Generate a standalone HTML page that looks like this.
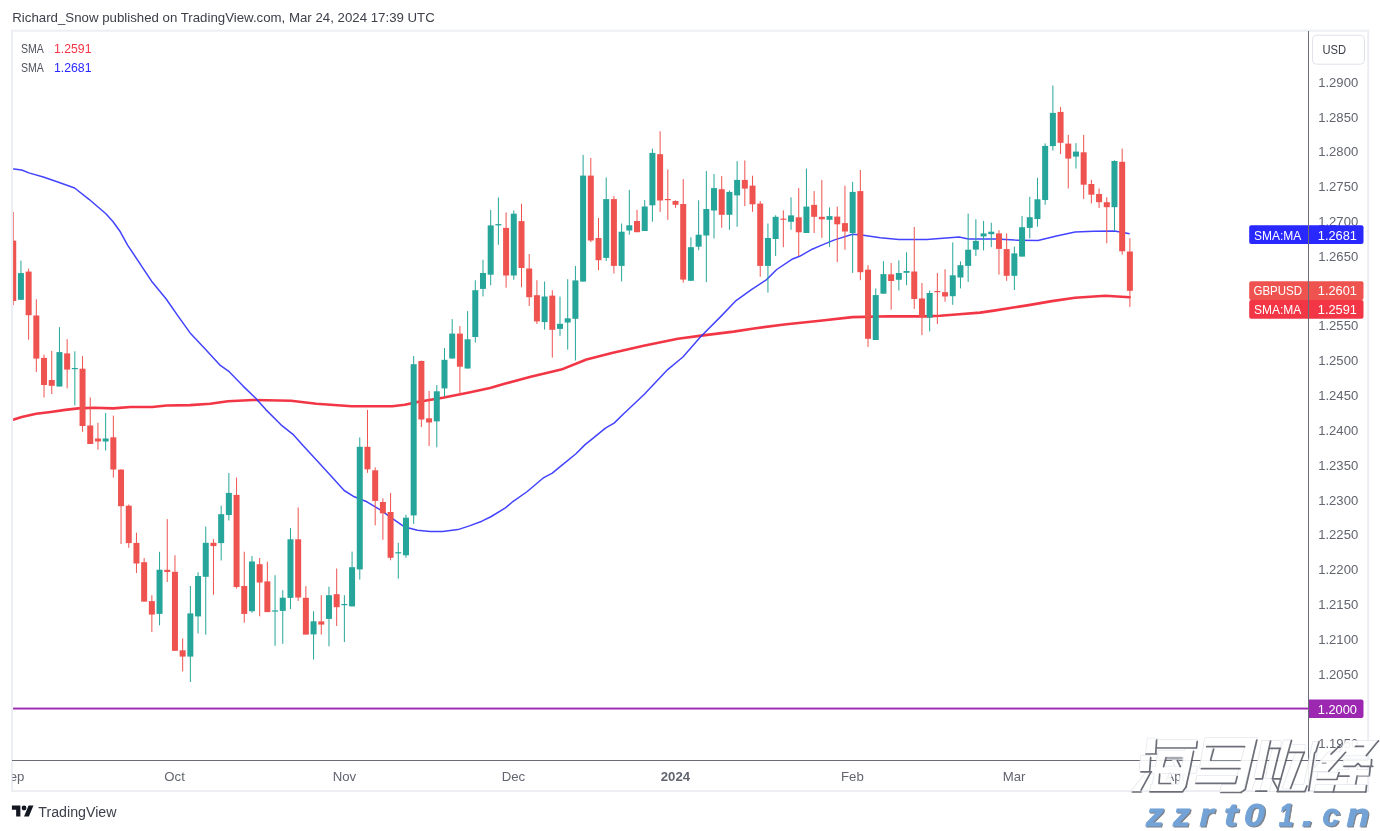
<!DOCTYPE html>
<html><head><meta charset="utf-8"><style>
html,body{margin:0;padding:0;background:#fff;}
body{width:1380px;height:831px;overflow:hidden;position:relative;font-family:"Liberation Sans", sans-serif;}
svg{position:absolute;left:0;top:0;will-change:transform;}
text{font-family:"Liberation Sans", sans-serif;}
</style></head><body>
<svg width="1380" height="831" viewBox="0 0 1380 831">
<defs><clipPath id="pane"><rect x="12" y="31" width="1296" height="729"/></clipPath><clipPath id="sepc"><rect x="12.4" y="761" width="40" height="29"/></clipPath>
<filter id="sh" x="-10%" y="-10%" width="130%" height="130%"><feGaussianBlur stdDeviation="0.8"/></filter><filter id="wb" x="-5%" y="-5%" width="110%" height="110%"><feGaussianBlur stdDeviation="0.45"/></filter><filter id="wsh" x="-5%" y="-5%" width="110%" height="110%"><feGaussianBlur stdDeviation="0.55"/></filter></defs>

<text x="12.3" y="22.4" font-size="13.3" fill="#3d404a" textLength="422.5" lengthAdjust="spacingAndGlyphs">Richard_Snow published on TradingView.com, Mar 24, 2024 17:39 UTC</text>
<g clip-path="url(#pane)">
<rect x="12" y="707.6" width="1296" height="1.9" fill="#9c27b0"/>
<polyline points="11.0,420.4 12.3,420.0 21.7,417.1 36.2,413.8 50.7,412.0 65.2,409.9 78.3,408.4 94.2,407.7 113.0,408.4 130.4,407.0 152.2,407.0 166.7,405.5 190.0,405.1 210.2,403.8 227.9,401.3 253.2,400.0 291.1,400.8 316.4,403.8 351.7,406.3 392.2,406.3 404.8,404.8 417.4,402.0 442.7,397.7 468.0,392.7 490.0,388.1 505.4,383.6 530.7,376.7 561.2,369.6 586.5,359.5 611.9,353.1 644.8,345.5 677.8,338.7 703.2,335.4 733.6,331.6 753.9,328.5 784.3,324.5 820.0,320.8 852.5,317.1 889.6,316.2 924.3,316.4 940.0,315.7 959.1,314.3 980.0,312.6 993.9,310.6 1028.7,305.1 1051.9,301.1 1075.1,297.7 1105.2,295.8 1129.6,297.2" fill="none" stroke="#f23645" stroke-width="2.6" stroke-linejoin="round" stroke-linecap="round"/>
<polyline points="11.0,168.5 12.0,168.8 21.7,170.0 28.9,172.9 43.3,177.0 57.8,182.0 74.6,188.0 89.0,199.3 105.9,213.8 113.1,221.7 120.3,231.8 127.6,245.1 144.4,270.3 151.6,281.2 166.0,298.7 178.1,316.1 190.1,332.9 205.2,349.0 220.3,365.4 229.2,371.7 243.1,386.1 255.7,398.2 265.8,409.6 281.0,424.8 293.6,434.9 303.7,446.2 316.4,460.1 331.5,476.6 344.2,490.5 354.3,496.8 366.9,501.8 379.5,509.4 392.2,518.3 404.8,527.1 417.4,530.2 430.1,531.4 442.7,531.4 457.9,529.6 469.4,525.9 481.9,521.2 491.3,516.5 505.4,507.9 513.2,501.3 527.3,491.5 542.9,478.2 552.3,473.2 561.7,465.4 575.7,454.0 585.1,444.6 592.9,438.3 605.4,428.2 614.1,423.1 624.2,413.3 638.3,400.0 644.8,393.7 667.7,369.6 682.9,357.0 700.6,336.7 720.9,316.4 736.1,300.6 751.4,289.7 766.6,279.6 776.7,269.5 791.9,259.3 799.6,256.3 812.2,249.2 820.0,245.9 833.9,240.1 852.5,234.2 861.7,235.0 880.3,237.8 898.8,239.4 926.7,239.4 959.1,237.1 968.4,239.0 996.2,239.0 1014.8,240.1 1038.0,240.6 1056.5,236.0 1075.1,232.0 1093.6,231.3 1114.5,230.9 1129.6,233.7" fill="none" stroke="#2f2fff" stroke-width="1.5" stroke-linejoin="round" stroke-opacity="0.9"/>
<rect x="12.73" y="212.0" width="1" height="93.2" fill="#ef5350"/>
<rect x="10.23" y="240.6" width="6.0" height="60.4" fill="#ef5350"/>
<rect x="20.43" y="260.6" width="1" height="39.4" fill="#26a69a"/>
<rect x="17.93" y="273.1" width="6.0" height="26.7" fill="#26a69a"/>
<rect x="28.13" y="268.6" width="1" height="71.1" fill="#ef5350"/>
<rect x="25.63" y="271.6" width="6.0" height="43.6" fill="#ef5350"/>
<rect x="35.83" y="299.3" width="1" height="72.7" fill="#ef5350"/>
<rect x="33.33" y="315.5" width="6.0" height="43.1" fill="#ef5350"/>
<rect x="43.53" y="354.6" width="1" height="42.9" fill="#ef5350"/>
<rect x="41.03" y="357.9" width="6.0" height="27.1" fill="#ef5350"/>
<rect x="51.23" y="350.9" width="1" height="43.1" fill="#ef5350"/>
<rect x="48.73" y="380.0" width="6.0" height="5.8" fill="#ef5350"/>
<rect x="58.94" y="327.2" width="1" height="59.3" fill="#26a69a"/>
<rect x="56.44" y="352.1" width="6.0" height="34.4" fill="#26a69a"/>
<rect x="66.64" y="339.2" width="1" height="49.1" fill="#ef5350"/>
<rect x="64.14" y="353.4" width="6.0" height="16.2" fill="#ef5350"/>
<rect x="74.34" y="351.3" width="1" height="54.2" fill="#26a69a"/>
<rect x="71.84" y="368.0" width="6.0" height="1.2" fill="#26a69a"/>
<rect x="82.04" y="356.1" width="1" height="75.7" fill="#ef5350"/>
<rect x="79.54" y="368.7" width="6.0" height="57.3" fill="#ef5350"/>
<rect x="89.74" y="397.4" width="1" height="46.6" fill="#ef5350"/>
<rect x="87.24" y="425.5" width="6.0" height="18.5" fill="#ef5350"/>
<rect x="97.44" y="422.8" width="1" height="26.9" fill="#ef5350"/>
<rect x="94.94" y="438.5" width="6.0" height="3.0" fill="#ef5350"/>
<rect x="105.14" y="413.0" width="1" height="37.5" fill="#26a69a"/>
<rect x="102.64" y="438.5" width="6.0" height="3.0" fill="#26a69a"/>
<rect x="112.84" y="415.6" width="1" height="62.0" fill="#ef5350"/>
<rect x="110.34" y="437.3" width="6.0" height="32.2" fill="#ef5350"/>
<rect x="120.54" y="469.2" width="1" height="74.8" fill="#ef5350"/>
<rect x="118.04" y="469.6" width="6.0" height="36.6" fill="#ef5350"/>
<rect x="128.25" y="504.5" width="1" height="43.3" fill="#ef5350"/>
<rect x="125.75" y="505.7" width="6.0" height="37.4" fill="#ef5350"/>
<rect x="135.95" y="532.7" width="1" height="40.3" fill="#ef5350"/>
<rect x="133.45" y="542.9" width="6.0" height="20.6" fill="#ef5350"/>
<rect x="143.65" y="558.0" width="1" height="43.6" fill="#ef5350"/>
<rect x="141.15" y="562.2" width="6.0" height="39.4" fill="#ef5350"/>
<rect x="151.35" y="595.2" width="1" height="36.8" fill="#ef5350"/>
<rect x="148.85" y="601.1" width="6.0" height="13.5" fill="#ef5350"/>
<rect x="159.05" y="551.8" width="1" height="73.5" fill="#26a69a"/>
<rect x="156.55" y="569.7" width="6.0" height="44.2" fill="#26a69a"/>
<rect x="166.75" y="519.1" width="1" height="62.9" fill="#ef5350"/>
<rect x="164.25" y="569.8" width="6.0" height="2.2" fill="#ef5350"/>
<rect x="174.45" y="555.3" width="1" height="95.5" fill="#ef5350"/>
<rect x="171.95" y="571.8" width="6.0" height="79.0" fill="#ef5350"/>
<rect x="182.15" y="638.4" width="1" height="33.1" fill="#ef5350"/>
<rect x="179.65" y="650.3" width="6.0" height="6.3" fill="#ef5350"/>
<rect x="189.85" y="586.0" width="1" height="96.0" fill="#26a69a"/>
<rect x="187.35" y="613.4" width="6.0" height="43.2" fill="#26a69a"/>
<rect x="197.55" y="572.3" width="1" height="61.2" fill="#26a69a"/>
<rect x="195.05" y="576.0" width="6.0" height="40.4" fill="#26a69a"/>
<rect x="205.25" y="526.6" width="1" height="108.0" fill="#26a69a"/>
<rect x="202.75" y="542.8" width="6.0" height="34.0" fill="#26a69a"/>
<rect x="212.96" y="539.1" width="1" height="55.6" fill="#ef5350"/>
<rect x="210.46" y="542.8" width="6.0" height="3.3" fill="#ef5350"/>
<rect x="220.66" y="505.7" width="1" height="54.8" fill="#26a69a"/>
<rect x="218.16" y="514.2" width="6.0" height="28.9" fill="#26a69a"/>
<rect x="228.36" y="473.0" width="1" height="47.5" fill="#26a69a"/>
<rect x="225.86" y="492.9" width="6.0" height="22.1" fill="#26a69a"/>
<rect x="236.06" y="477.5" width="1" height="110.9" fill="#ef5350"/>
<rect x="233.56" y="494.9" width="6.0" height="92.1" fill="#ef5350"/>
<rect x="243.76" y="551.7" width="1" height="71.0" fill="#ef5350"/>
<rect x="241.26" y="586.0" width="6.0" height="27.9" fill="#ef5350"/>
<rect x="251.46" y="556.0" width="1" height="56.8" fill="#26a69a"/>
<rect x="248.96" y="561.5" width="6.0" height="49.7" fill="#26a69a"/>
<rect x="259.16" y="558.0" width="1" height="58.3" fill="#ef5350"/>
<rect x="256.66" y="564.2" width="6.0" height="18.3" fill="#ef5350"/>
<rect x="266.86" y="561.7" width="1" height="50.4" fill="#ef5350"/>
<rect x="264.36" y="581.4" width="6.0" height="30.7" fill="#ef5350"/>
<rect x="274.56" y="575.2" width="1" height="70.6" fill="#26a69a"/>
<rect x="272.06" y="610.4" width="6.0" height="1.2" fill="#26a69a"/>
<rect x="282.26" y="590.2" width="1" height="53.6" fill="#26a69a"/>
<rect x="279.76" y="597.7" width="6.0" height="13.2" fill="#26a69a"/>
<rect x="289.97" y="528.1" width="1" height="81.0" fill="#26a69a"/>
<rect x="287.47" y="539.3" width="6.0" height="58.6" fill="#26a69a"/>
<rect x="297.67" y="507.4" width="1" height="93.5" fill="#ef5350"/>
<rect x="295.17" y="539.3" width="6.0" height="58.2" fill="#ef5350"/>
<rect x="305.37" y="586.2" width="1" height="48.4" fill="#ef5350"/>
<rect x="302.87" y="597.8" width="6.0" height="36.8" fill="#ef5350"/>
<rect x="313.07" y="611.2" width="1" height="48.3" fill="#26a69a"/>
<rect x="310.57" y="621.3" width="6.0" height="13.1" fill="#26a69a"/>
<rect x="320.77" y="595.2" width="1" height="39.4" fill="#ef5350"/>
<rect x="318.27" y="621.4" width="6.0" height="3.2" fill="#ef5350"/>
<rect x="328.47" y="586.7" width="1" height="59.6" fill="#26a69a"/>
<rect x="325.97" y="595.2" width="6.0" height="23.7" fill="#26a69a"/>
<rect x="336.17" y="568.5" width="1" height="57.4" fill="#ef5350"/>
<rect x="333.67" y="594.2" width="6.0" height="13.0" fill="#ef5350"/>
<rect x="343.87" y="595.2" width="1" height="46.9" fill="#26a69a"/>
<rect x="341.37" y="604.0" width="6.0" height="1.2" fill="#26a69a"/>
<rect x="351.57" y="551.6" width="1" height="54.8" fill="#26a69a"/>
<rect x="349.07" y="567.2" width="6.0" height="39.2" fill="#26a69a"/>
<rect x="359.27" y="437.4" width="1" height="142.2" fill="#26a69a"/>
<rect x="356.77" y="446.8" width="6.0" height="122.6" fill="#26a69a"/>
<rect x="366.98" y="409.9" width="1" height="62.9" fill="#ef5350"/>
<rect x="364.48" y="446.8" width="6.0" height="22.5" fill="#ef5350"/>
<rect x="374.68" y="467.3" width="1" height="58.1" fill="#ef5350"/>
<rect x="372.18" y="470.3" width="6.0" height="30.6" fill="#ef5350"/>
<rect x="382.38" y="498.3" width="1" height="41.5" fill="#ef5350"/>
<rect x="379.88" y="502.0" width="6.0" height="11.3" fill="#ef5350"/>
<rect x="390.08" y="493.0" width="1" height="67.3" fill="#ef5350"/>
<rect x="387.58" y="512.0" width="6.0" height="45.8" fill="#ef5350"/>
<rect x="397.78" y="542.7" width="1" height="35.9" fill="#26a69a"/>
<rect x="395.28" y="552.2" width="6.0" height="1.2" fill="#26a69a"/>
<rect x="405.48" y="514.7" width="1" height="43.1" fill="#26a69a"/>
<rect x="402.98" y="517.7" width="6.0" height="37.6" fill="#26a69a"/>
<rect x="413.18" y="356.0" width="1" height="167.9" fill="#26a69a"/>
<rect x="410.68" y="364.2" width="6.0" height="151.2" fill="#26a69a"/>
<rect x="420.88" y="360.5" width="1" height="66.5" fill="#ef5350"/>
<rect x="418.38" y="361.0" width="6.0" height="58.5" fill="#ef5350"/>
<rect x="428.58" y="391.0" width="1" height="55.0" fill="#ef5350"/>
<rect x="426.08" y="418.3" width="6.0" height="4.2" fill="#ef5350"/>
<rect x="436.29" y="385.1" width="1" height="62.3" fill="#26a69a"/>
<rect x="433.79" y="391.3" width="6.0" height="30.1" fill="#26a69a"/>
<rect x="443.99" y="348.0" width="1" height="48.7" fill="#26a69a"/>
<rect x="441.49" y="359.8" width="6.0" height="28.6" fill="#26a69a"/>
<rect x="451.69" y="319.1" width="1" height="39.4" fill="#26a69a"/>
<rect x="449.19" y="333.6" width="6.0" height="24.9" fill="#26a69a"/>
<rect x="459.39" y="326.1" width="1" height="69.3" fill="#ef5350"/>
<rect x="456.89" y="333.6" width="6.0" height="33.1" fill="#ef5350"/>
<rect x="467.09" y="311.1" width="1" height="57.4" fill="#26a69a"/>
<rect x="464.59" y="339.3" width="6.0" height="29.2" fill="#26a69a"/>
<rect x="474.79" y="280.3" width="1" height="62.2" fill="#26a69a"/>
<rect x="472.29" y="290.2" width="6.0" height="46.8" fill="#26a69a"/>
<rect x="482.49" y="259.8" width="1" height="36.6" fill="#26a69a"/>
<rect x="479.99" y="273.0" width="6.0" height="15.9" fill="#26a69a"/>
<rect x="490.19" y="209.9" width="1" height="75.4" fill="#26a69a"/>
<rect x="487.69" y="225.4" width="6.0" height="49.3" fill="#26a69a"/>
<rect x="497.89" y="197.5" width="1" height="47.3" fill="#26a69a"/>
<rect x="495.39" y="224.1" width="6.0" height="1.3" fill="#26a69a"/>
<rect x="505.59" y="212.4" width="1" height="75.3" fill="#ef5350"/>
<rect x="503.09" y="227.9" width="6.0" height="47.6" fill="#ef5350"/>
<rect x="513.29" y="210.4" width="1" height="69.4" fill="#26a69a"/>
<rect x="510.79" y="213.7" width="6.0" height="61.8" fill="#26a69a"/>
<rect x="521.00" y="203.7" width="1" height="83.5" fill="#ef5350"/>
<rect x="518.50" y="221.1" width="6.0" height="46.9" fill="#ef5350"/>
<rect x="528.70" y="254.1" width="1" height="51.8" fill="#ef5350"/>
<rect x="526.20" y="268.5" width="6.0" height="28.7" fill="#ef5350"/>
<rect x="536.40" y="280.2" width="1" height="43.7" fill="#ef5350"/>
<rect x="533.90" y="295.2" width="6.0" height="26.2" fill="#ef5350"/>
<rect x="544.10" y="281.5" width="1" height="48.1" fill="#26a69a"/>
<rect x="541.60" y="296.5" width="6.0" height="25.6" fill="#26a69a"/>
<rect x="551.80" y="290.3" width="1" height="67.3" fill="#ef5350"/>
<rect x="549.30" y="295.6" width="6.0" height="34.2" fill="#ef5350"/>
<rect x="559.50" y="296.5" width="1" height="39.3" fill="#26a69a"/>
<rect x="557.00" y="323.8" width="6.0" height="5.1" fill="#26a69a"/>
<rect x="567.20" y="279.2" width="1" height="70.4" fill="#26a69a"/>
<rect x="564.70" y="318.3" width="6.0" height="4.2" fill="#26a69a"/>
<rect x="574.90" y="265.9" width="1" height="94.6" fill="#26a69a"/>
<rect x="572.40" y="280.4" width="6.0" height="38.4" fill="#26a69a"/>
<rect x="582.60" y="154.9" width="1" height="126.7" fill="#26a69a"/>
<rect x="580.10" y="175.6" width="6.0" height="106.0" fill="#26a69a"/>
<rect x="590.30" y="157.9" width="1" height="84.3" fill="#ef5350"/>
<rect x="587.80" y="175.6" width="6.0" height="64.9" fill="#ef5350"/>
<rect x="598.01" y="218.0" width="1" height="52.1" fill="#ef5350"/>
<rect x="595.51" y="238.0" width="6.0" height="22.2" fill="#ef5350"/>
<rect x="605.71" y="177.4" width="1" height="83.5" fill="#26a69a"/>
<rect x="603.21" y="199.1" width="6.0" height="58.8" fill="#26a69a"/>
<rect x="613.41" y="196.1" width="1" height="77.3" fill="#ef5350"/>
<rect x="610.91" y="199.1" width="6.0" height="66.8" fill="#ef5350"/>
<rect x="621.11" y="223.5" width="1" height="57.9" fill="#26a69a"/>
<rect x="618.61" y="231.7" width="6.0" height="34.2" fill="#26a69a"/>
<rect x="628.81" y="189.9" width="1" height="44.8" fill="#26a69a"/>
<rect x="626.31" y="225.3" width="6.0" height="5.2" fill="#26a69a"/>
<rect x="636.51" y="209.8" width="1" height="22.4" fill="#ef5350"/>
<rect x="634.01" y="221.0" width="6.0" height="11.2" fill="#ef5350"/>
<rect x="644.21" y="200.0" width="1" height="31.0" fill="#26a69a"/>
<rect x="641.71" y="206.5" width="6.0" height="24.5" fill="#26a69a"/>
<rect x="651.91" y="148.7" width="1" height="73.0" fill="#26a69a"/>
<rect x="649.41" y="152.9" width="6.0" height="52.4" fill="#26a69a"/>
<rect x="659.61" y="131.2" width="1" height="80.6" fill="#ef5350"/>
<rect x="657.11" y="154.2" width="6.0" height="46.3" fill="#ef5350"/>
<rect x="667.31" y="169.4" width="1" height="50.4" fill="#ef5350"/>
<rect x="664.81" y="199.0" width="6.0" height="1.2" fill="#ef5350"/>
<rect x="675.02" y="200.3" width="1" height="7.5" fill="#ef5350"/>
<rect x="672.52" y="201.0" width="6.0" height="3.8" fill="#ef5350"/>
<rect x="682.72" y="179.1" width="1" height="103.5" fill="#ef5350"/>
<rect x="680.22" y="204.0" width="6.0" height="75.6" fill="#ef5350"/>
<rect x="690.42" y="237.2" width="1" height="43.6" fill="#26a69a"/>
<rect x="687.92" y="247.2" width="6.0" height="33.6" fill="#26a69a"/>
<rect x="698.12" y="200.3" width="1" height="49.9" fill="#26a69a"/>
<rect x="695.62" y="234.7" width="6.0" height="12.0" fill="#26a69a"/>
<rect x="705.82" y="171.1" width="1" height="111.0" fill="#26a69a"/>
<rect x="703.32" y="209.0" width="6.0" height="26.5" fill="#26a69a"/>
<rect x="713.52" y="174.1" width="1" height="64.4" fill="#26a69a"/>
<rect x="711.02" y="188.1" width="6.0" height="22.4" fill="#26a69a"/>
<rect x="721.22" y="176.1" width="1" height="51.6" fill="#ef5350"/>
<rect x="718.72" y="189.2" width="6.0" height="25.6" fill="#ef5350"/>
<rect x="728.92" y="190.4" width="1" height="39.4" fill="#26a69a"/>
<rect x="726.42" y="191.9" width="6.0" height="22.9" fill="#26a69a"/>
<rect x="736.62" y="161.2" width="1" height="65.6" fill="#26a69a"/>
<rect x="734.12" y="179.9" width="6.0" height="15.5" fill="#26a69a"/>
<rect x="744.32" y="160.4" width="1" height="45.7" fill="#ef5350"/>
<rect x="741.82" y="179.9" width="6.0" height="8.7" fill="#ef5350"/>
<rect x="752.03" y="175.7" width="1" height="36.1" fill="#ef5350"/>
<rect x="749.53" y="185.6" width="6.0" height="18.7" fill="#ef5350"/>
<rect x="759.73" y="201.1" width="1" height="75.6" fill="#ef5350"/>
<rect x="757.23" y="203.6" width="6.0" height="62.3" fill="#ef5350"/>
<rect x="767.43" y="223.5" width="1" height="69.1" fill="#26a69a"/>
<rect x="764.93" y="238.0" width="6.0" height="27.9" fill="#26a69a"/>
<rect x="775.13" y="215.3" width="1" height="40.7" fill="#26a69a"/>
<rect x="772.63" y="216.8" width="6.0" height="22.2" fill="#26a69a"/>
<rect x="782.83" y="210.3" width="1" height="36.9" fill="#ef5350"/>
<rect x="780.33" y="218.6" width="6.0" height="1.2" fill="#ef5350"/>
<rect x="790.53" y="197.4" width="1" height="32.4" fill="#26a69a"/>
<rect x="788.03" y="215.4" width="6.0" height="6.4" fill="#26a69a"/>
<rect x="798.23" y="188.1" width="1" height="67.9" fill="#ef5350"/>
<rect x="795.73" y="217.3" width="6.0" height="15.0" fill="#ef5350"/>
<rect x="805.93" y="168.5" width="1" height="64.5" fill="#26a69a"/>
<rect x="803.43" y="206.6" width="6.0" height="26.4" fill="#26a69a"/>
<rect x="813.63" y="191.1" width="1" height="41.9" fill="#ef5350"/>
<rect x="811.13" y="204.9" width="6.0" height="11.9" fill="#ef5350"/>
<rect x="821.33" y="179.9" width="1" height="57.9" fill="#ef5350"/>
<rect x="818.83" y="216.8" width="6.0" height="2.5" fill="#ef5350"/>
<rect x="829.04" y="207.4" width="1" height="39.4" fill="#26a69a"/>
<rect x="826.54" y="216.1" width="6.0" height="3.7" fill="#26a69a"/>
<rect x="836.74" y="206.6" width="1" height="55.6" fill="#ef5350"/>
<rect x="834.24" y="216.6" width="6.0" height="7.7" fill="#ef5350"/>
<rect x="844.44" y="185.7" width="1" height="64.1" fill="#ef5350"/>
<rect x="841.94" y="223.1" width="6.0" height="8.4" fill="#ef5350"/>
<rect x="852.14" y="181.9" width="1" height="91.0" fill="#26a69a"/>
<rect x="849.64" y="191.9" width="6.0" height="41.1" fill="#26a69a"/>
<rect x="859.84" y="170.0" width="1" height="110.2" fill="#ef5350"/>
<rect x="857.34" y="191.1" width="6.0" height="81.1" fill="#ef5350"/>
<rect x="867.54" y="265.2" width="1" height="81.8" fill="#ef5350"/>
<rect x="865.04" y="269.7" width="6.0" height="69.1" fill="#ef5350"/>
<rect x="875.24" y="288.4" width="1" height="51.6" fill="#26a69a"/>
<rect x="872.74" y="295.1" width="6.0" height="44.9" fill="#26a69a"/>
<rect x="882.94" y="261.2" width="1" height="32.5" fill="#26a69a"/>
<rect x="880.44" y="274.1" width="6.0" height="19.6" fill="#26a69a"/>
<rect x="890.64" y="263.0" width="1" height="46.7" fill="#ef5350"/>
<rect x="888.14" y="274.3" width="6.0" height="6.7" fill="#ef5350"/>
<rect x="898.35" y="260.3" width="1" height="30.2" fill="#26a69a"/>
<rect x="895.85" y="273.0" width="6.0" height="6.8" fill="#26a69a"/>
<rect x="906.05" y="252.3" width="1" height="32.9" fill="#26a69a"/>
<rect x="903.55" y="271.0" width="6.0" height="1.8" fill="#26a69a"/>
<rect x="913.75" y="226.9" width="1" height="82.0" fill="#ef5350"/>
<rect x="911.25" y="271.5" width="6.0" height="27.5" fill="#ef5350"/>
<rect x="921.45" y="283.0" width="1" height="52.1" fill="#ef5350"/>
<rect x="918.95" y="298.5" width="6.0" height="18.2" fill="#ef5350"/>
<rect x="929.15" y="290.5" width="1" height="40.9" fill="#26a69a"/>
<rect x="926.65" y="293.0" width="6.0" height="24.7" fill="#26a69a"/>
<rect x="936.85" y="273.0" width="1" height="51.1" fill="#ef5350"/>
<rect x="934.35" y="291.0" width="6.0" height="1.2" fill="#ef5350"/>
<rect x="944.55" y="269.3" width="1" height="32.4" fill="#ef5350"/>
<rect x="942.05" y="292.2" width="6.0" height="4.3" fill="#ef5350"/>
<rect x="952.25" y="242.4" width="1" height="62.4" fill="#26a69a"/>
<rect x="949.75" y="275.3" width="6.0" height="20.9" fill="#26a69a"/>
<rect x="959.95" y="261.3" width="1" height="27.1" fill="#26a69a"/>
<rect x="957.45" y="265.2" width="6.0" height="12.3" fill="#26a69a"/>
<rect x="967.65" y="213.6" width="1" height="68.3" fill="#26a69a"/>
<rect x="965.15" y="249.7" width="6.0" height="16.2" fill="#26a69a"/>
<rect x="975.36" y="219.2" width="1" height="36.7" fill="#26a69a"/>
<rect x="972.86" y="240.9" width="6.0" height="8.7" fill="#26a69a"/>
<rect x="983.06" y="221.0" width="1" height="29.4" fill="#26a69a"/>
<rect x="980.56" y="233.4" width="6.0" height="3.0" fill="#26a69a"/>
<rect x="990.76" y="222.7" width="1" height="24.4" fill="#26a69a"/>
<rect x="988.26" y="231.7" width="6.0" height="2.5" fill="#26a69a"/>
<rect x="998.46" y="230.2" width="1" height="44.4" fill="#ef5350"/>
<rect x="995.96" y="233.4" width="6.0" height="15.5" fill="#ef5350"/>
<rect x="1006.16" y="233.4" width="1" height="47.4" fill="#ef5350"/>
<rect x="1003.66" y="249.1" width="6.0" height="26.7" fill="#ef5350"/>
<rect x="1013.86" y="246.6" width="1" height="43.4" fill="#26a69a"/>
<rect x="1011.36" y="253.4" width="6.0" height="22.4" fill="#26a69a"/>
<rect x="1021.56" y="216.0" width="1" height="40.6" fill="#26a69a"/>
<rect x="1019.06" y="227.2" width="6.0" height="29.4" fill="#26a69a"/>
<rect x="1029.26" y="196.8" width="1" height="41.6" fill="#26a69a"/>
<rect x="1026.76" y="217.2" width="6.0" height="10.7" fill="#26a69a"/>
<rect x="1036.96" y="177.8" width="1" height="48.9" fill="#26a69a"/>
<rect x="1034.46" y="199.3" width="6.0" height="19.7" fill="#26a69a"/>
<rect x="1044.66" y="143.4" width="1" height="61.3" fill="#26a69a"/>
<rect x="1042.16" y="145.9" width="6.0" height="54.1" fill="#26a69a"/>
<rect x="1052.37" y="85.5" width="1" height="65.1" fill="#26a69a"/>
<rect x="1049.87" y="112.9" width="6.0" height="33.2" fill="#26a69a"/>
<rect x="1060.07" y="106.9" width="1" height="47.2" fill="#ef5350"/>
<rect x="1057.57" y="111.9" width="6.0" height="30.9" fill="#ef5350"/>
<rect x="1067.77" y="134.9" width="1" height="53.6" fill="#ef5350"/>
<rect x="1065.27" y="143.6" width="6.0" height="15.0" fill="#ef5350"/>
<rect x="1075.47" y="143.1" width="1" height="25.4" fill="#26a69a"/>
<rect x="1072.97" y="151.6" width="6.0" height="5.0" fill="#26a69a"/>
<rect x="1083.17" y="134.9" width="1" height="64.1" fill="#ef5350"/>
<rect x="1080.67" y="152.3" width="6.0" height="32.4" fill="#ef5350"/>
<rect x="1090.87" y="179.8" width="1" height="23.6" fill="#ef5350"/>
<rect x="1088.37" y="184.0" width="6.0" height="10.7" fill="#ef5350"/>
<rect x="1098.57" y="188.5" width="1" height="19.5" fill="#ef5350"/>
<rect x="1096.07" y="194.0" width="6.0" height="8.2" fill="#ef5350"/>
<rect x="1106.27" y="197.2" width="1" height="46.1" fill="#ef5350"/>
<rect x="1103.77" y="202.2" width="6.0" height="5.0" fill="#ef5350"/>
<rect x="1113.97" y="160.3" width="1" height="70.6" fill="#26a69a"/>
<rect x="1111.47" y="161.0" width="6.0" height="46.2" fill="#26a69a"/>
<rect x="1121.67" y="148.6" width="1" height="106.1" fill="#ef5350"/>
<rect x="1119.17" y="161.8" width="6.0" height="89.5" fill="#ef5350"/>
<rect x="1129.38" y="238.2" width="1" height="68.7" fill="#ef5350"/>
<rect x="1126.88" y="251.5" width="6.0" height="39.3" fill="#ef5350"/>
</g>
<rect x="12.1" y="30.7" width="1356.1" height="760.4" fill="none" stroke="#eceef3" stroke-width="2"/>
<rect x="12" y="760" width="1356" height="1" fill="#6a6d78"/>
<text x="20.9" y="53" font-size="13" fill="#50535e" textLength="22.9" lengthAdjust="spacingAndGlyphs">SMA</text>
<text x="53.9" y="53" font-size="13" fill="#f23645" textLength="37.6" lengthAdjust="spacingAndGlyphs">1.2591</text>
<text x="20.9" y="71.8" font-size="13" fill="#50535e" textLength="22.9" lengthAdjust="spacingAndGlyphs">SMA</text>
<text x="53.9" y="71.8" font-size="13" fill="#2828ff" textLength="37.6" lengthAdjust="spacingAndGlyphs">1.2681</text>
<rect x="1312.5" y="35.2" width="52" height="29" rx="4" fill="#fff" stroke="#e0e3eb" stroke-width="1"/>
<text x="1322.5" y="54.3" font-size="13" fill="#3d404a" textLength="23.6" lengthAdjust="spacingAndGlyphs">USD</text>
<text x="1318.2" y="86.7" font-size="13.4" fill="#62656f" textLength="40" lengthAdjust="spacingAndGlyphs">1.2900</text>
<text x="1318.2" y="121.5" font-size="13.4" fill="#62656f" textLength="40" lengthAdjust="spacingAndGlyphs">1.2850</text>
<text x="1318.2" y="156.4" font-size="13.4" fill="#62656f" textLength="40" lengthAdjust="spacingAndGlyphs">1.2800</text>
<text x="1318.2" y="191.2" font-size="13.4" fill="#62656f" textLength="40" lengthAdjust="spacingAndGlyphs">1.2750</text>
<text x="1318.2" y="226.0" font-size="13.4" fill="#62656f" textLength="40" lengthAdjust="spacingAndGlyphs">1.2700</text>
<text x="1318.2" y="260.8" font-size="13.4" fill="#62656f" textLength="40" lengthAdjust="spacingAndGlyphs">1.2650</text>
<text x="1318.2" y="330.4" font-size="13.4" fill="#62656f" textLength="40" lengthAdjust="spacingAndGlyphs">1.2550</text>
<text x="1318.2" y="365.2" font-size="13.4" fill="#62656f" textLength="40" lengthAdjust="spacingAndGlyphs">1.2500</text>
<text x="1318.2" y="400.1" font-size="13.4" fill="#62656f" textLength="40" lengthAdjust="spacingAndGlyphs">1.2450</text>
<text x="1318.2" y="434.9" font-size="13.4" fill="#62656f" textLength="40" lengthAdjust="spacingAndGlyphs">1.2400</text>
<text x="1318.2" y="469.7" font-size="13.4" fill="#62656f" textLength="40" lengthAdjust="spacingAndGlyphs">1.2350</text>
<text x="1318.2" y="504.5" font-size="13.4" fill="#62656f" textLength="40" lengthAdjust="spacingAndGlyphs">1.2300</text>
<text x="1318.2" y="539.3" font-size="13.4" fill="#62656f" textLength="40" lengthAdjust="spacingAndGlyphs">1.2250</text>
<text x="1318.2" y="574.1" font-size="13.4" fill="#62656f" textLength="40" lengthAdjust="spacingAndGlyphs">1.2200</text>
<text x="1318.2" y="609.0" font-size="13.4" fill="#62656f" textLength="40" lengthAdjust="spacingAndGlyphs">1.2150</text>
<text x="1318.2" y="643.8" font-size="13.4" fill="#62656f" textLength="40" lengthAdjust="spacingAndGlyphs">1.2100</text>
<text x="1318.2" y="678.6" font-size="13.4" fill="#62656f" textLength="40" lengthAdjust="spacingAndGlyphs">1.2050</text>
<text x="1318.2" y="748.2" font-size="13.4" fill="#62656f" textLength="40" lengthAdjust="spacingAndGlyphs">1.1950</text>
<text x="12.6" y="781" font-size="13.2" fill="#62656f" text-anchor="middle" clip-path="url(#sepc)">Sep</text>
<text x="174.6" y="781" font-size="13.2" fill="#62656f" text-anchor="middle">Oct</text>
<text x="344.4" y="781" font-size="13.2" fill="#62656f" text-anchor="middle">Nov</text>
<text x="513.5" y="781" font-size="13.2" fill="#62656f" text-anchor="middle">Dec</text>
<text x="675.4" y="781" font-size="13.2" fill="#62656f" text-anchor="middle" font-weight="bold">2024</text>
<text x="852.4" y="781" font-size="13.2" fill="#62656f" text-anchor="middle">Feb</text>
<text x="1014.0" y="781" font-size="13.2" fill="#62656f" text-anchor="middle">Mar</text>
<text x="1175.7" y="781" font-size="13.2" fill="#62656f" text-anchor="middle">Apr</text>
<rect x="0" y="762" width="11" height="28" fill="#fff"/>
<path d="M1251.2,225.3 H1308 V244 H1251.2 a2,2 0 0 1 -2,-2 V227.3 a2,2 0 0 1 2,-2 Z" fill="#2828ff"/>
<path d="M1309,225.3 H1361.5 a2,2 0 0 1 2,2 V242 a2,2 0 0 1 -2,2 H1309 Z" fill="#2828ff"/>
<text x="1254" y="239.5" font-size="13.2" fill="#fff" textLength="47.3" lengthAdjust="spacingAndGlyphs">SMA:MA</text>
<text x="1317.8" y="239.5" font-size="13.4" fill="#fff" textLength="39.2" lengthAdjust="spacingAndGlyphs">1.2681</text>
<path d="M1251.2,281.2 H1308 V300.1 H1251.2 a2,2 0 0 1 -2,-2 V283.2 a2,2 0 0 1 2,-2 Z" fill="#ef5350"/>
<path d="M1309,281.2 H1361.5 a2,2 0 0 1 2,2 V298.1 a2,2 0 0 1 -2,2 H1309 Z" fill="#ef5350"/>
<text x="1253.5" y="295.4" font-size="13.2" fill="#fff" textLength="48.5" lengthAdjust="spacingAndGlyphs">GBPUSD</text>
<text x="1317.8" y="295.4" font-size="13.4" fill="#fff" textLength="39.2" lengthAdjust="spacingAndGlyphs">1.2601</text>
<path d="M1251.2,300.1 H1308 V318.8 H1251.2 a2,2 0 0 1 -2,-2 V302.1 a2,2 0 0 1 2,-2 Z" fill="#f23645"/>
<path d="M1309,300.1 H1361.5 a2,2 0 0 1 2,2 V316.8 a2,2 0 0 1 -2,2 H1309 Z" fill="#f23645"/>
<text x="1254" y="314.3" font-size="13.2" fill="#fff" textLength="47.3" lengthAdjust="spacingAndGlyphs">SMA:MA</text>
<text x="1317.8" y="314.3" font-size="13.4" fill="#fff" textLength="39.2" lengthAdjust="spacingAndGlyphs">1.2591</text>
<path d="M1309,699.5 H1361.5 a2,2 0 0 1 2,2 V716 a2,2 0 0 1 -2,2 H1309 Z" fill="#9c27b0"/>
<text x="1317.8" y="713.5" font-size="13.4" fill="#fff" textLength="39.2" lengthAdjust="spacingAndGlyphs">1.2000</text>
<rect x="1308" y="31" width="1" height="760" fill="#6a6d78"/>
<g transform="translate(11.9,805.6) scale(0.607) translate(0,-4)" fill="#131722"><path d="M14 22H7V11H0V4h14v18zM28 22h-8l7.5-18h8L28 22z"/><circle cx="20" cy="8" r="4"/></g>
<text x="38.3" y="816.6" font-size="14" fill="#3d404a" textLength="78.2" lengthAdjust="spacingAndGlyphs">TradingView</text>
<g opacity="0.9">
<g fill="#ffffff" stroke="#e3e5ea" stroke-width="1.6" stroke-linejoin="round" filter="url(#wsh)">
<polygon points="1147.5,738.5 1157.0,738.5 1155.5,753.3 1146.0,753.3"/>
<polygon points="1157.0,740.0 1197.0,740.0 1196.3,747.3 1156.0,747.3"/>
<polygon points="1141.0,756.0 1150.3,756.0 1149.3,771.0 1139.5,771.0"/>
<polygon points="1146.0,772.5 1150.0,772.5 1140.5,791.5 1131.0,791.5"/>
<polygon points="1158.6,751.0 1166.2,751.0 1159.1,791.0 1151.5,791.0"/>
<polygon points="1185.5,748.0 1193.1,748.0 1185.6,790.0 1178.0,790.0"/>
<polygon points="1160.0,750.5 1193.0,750.5 1192.0,757.0 1159.0,757.0"/>
<polygon points="1150.0,766.5 1197.0,766.5 1196.0,773.3 1149.0,773.3"/>
<polygon points="1151.0,784.5 1187.0,784.5 1186.0,791.3 1150.0,791.3"/>
<polygon points="1161.0,774.0 1171.0,774.0 1170.2,783.0 1159.8,783.0"/>
<polygon points="1172.0,758.5 1177.0,758.5 1180.0,766.0 1175.0,766.0"/>
<polygon points="1205.0,738.0 1257.0,738.0 1256.0,746.2 1204.0,746.2"/>
<polygon points="1205.0,739.0 1213.5,739.0 1209.2,763.0 1200.7,763.0"/>
<polygon points="1201.0,761.5 1244.0,761.5 1243.0,768.2 1200.0,768.2"/>
<polygon points="1246.8,740.0 1256.2,740.0 1243.0,790.5 1233.6,790.5"/>
<polygon points="1197.0,776.0 1237.0,776.0 1235.5,783.0 1195.5,783.0"/>
<polygon points="1222.0,785.0 1244.0,785.0 1242.0,792.0 1220.0,792.0"/>
<polygon points="1262.5,741.0 1270.5,741.0 1262.3,778.3 1254.3,778.3"/>
<polygon points="1262.0,741.0 1281.0,741.0 1280.3,748.0 1261.0,748.0"/>
<polygon points="1272.6,748.7 1279.6,748.7 1272.4,778.3 1265.4,778.3"/>
<polygon points="1283.7,740.4 1290.7,740.4 1276.6,791.3 1269.6,791.3"/>
<polygon points="1256.0,779.0 1263.0,779.0 1259.0,791.0 1252.0,791.0"/>
<polygon points="1288.0,745.0 1305.0,745.0 1304.1,752.0 1287.0,752.0"/>
<polygon points="1296.1,752.3 1304.1,752.3 1290.4,788.4 1282.4,788.4"/>
<polygon points="1291.0,785.0 1306.0,785.0 1304.8,791.3 1290.0,791.3"/>
<polygon points="1328.4,752.3 1345.4,752.3 1328.8,771.1 1311.8,771.1"/>
<polygon points="1346.0,741.0 1378.0,741.0 1366.0,755.5 1338.0,755.5"/>
<polygon points="1344.0,759.5 1372.0,759.5 1371.0,766.0 1343.0,766.0"/>
<polygon points="1349.0,766.0 1357.0,766.0 1355.5,784.0 1347.5,784.0"/>
<polygon points="1338.0,770.0 1370.0,770.0 1369.2,775.8 1337.5,775.8"/>
<polygon points="1316.0,785.0 1367.0,785.0 1365.6,791.7 1314.4,791.7"/>
<polygon points="1318.0,772.5 1338.0,772.5 1336.8,779.0 1317.0,779.0"/>
<polygon points="1313.0,742.0 1319.0,742.0 1309.0,790.0 1303.0,790.0"/>
</g>
<g fill="#ffffff">
<polygon points="1147.5,738.5 1157.0,738.5 1155.5,753.3 1146.0,753.3"/>
<polygon points="1157.0,740.0 1197.0,740.0 1196.3,747.3 1156.0,747.3"/>
<polygon points="1141.0,756.0 1150.3,756.0 1149.3,771.0 1139.5,771.0"/>
<polygon points="1146.0,772.5 1150.0,772.5 1140.5,791.5 1131.0,791.5"/>
<polygon points="1158.6,751.0 1166.2,751.0 1159.1,791.0 1151.5,791.0"/>
<polygon points="1185.5,748.0 1193.1,748.0 1185.6,790.0 1178.0,790.0"/>
<polygon points="1160.0,750.5 1193.0,750.5 1192.0,757.0 1159.0,757.0"/>
<polygon points="1150.0,766.5 1197.0,766.5 1196.0,773.3 1149.0,773.3"/>
<polygon points="1151.0,784.5 1187.0,784.5 1186.0,791.3 1150.0,791.3"/>
<polygon points="1161.0,774.0 1171.0,774.0 1170.2,783.0 1159.8,783.0"/>
<polygon points="1172.0,758.5 1177.0,758.5 1180.0,766.0 1175.0,766.0"/>
<polygon points="1205.0,738.0 1257.0,738.0 1256.0,746.2 1204.0,746.2"/>
<polygon points="1205.0,739.0 1213.5,739.0 1209.2,763.0 1200.7,763.0"/>
<polygon points="1201.0,761.5 1244.0,761.5 1243.0,768.2 1200.0,768.2"/>
<polygon points="1246.8,740.0 1256.2,740.0 1243.0,790.5 1233.6,790.5"/>
<polygon points="1197.0,776.0 1237.0,776.0 1235.5,783.0 1195.5,783.0"/>
<polygon points="1222.0,785.0 1244.0,785.0 1242.0,792.0 1220.0,792.0"/>
<polygon points="1262.5,741.0 1270.5,741.0 1262.3,778.3 1254.3,778.3"/>
<polygon points="1262.0,741.0 1281.0,741.0 1280.3,748.0 1261.0,748.0"/>
<polygon points="1272.6,748.7 1279.6,748.7 1272.4,778.3 1265.4,778.3"/>
<polygon points="1283.7,740.4 1290.7,740.4 1276.6,791.3 1269.6,791.3"/>
<polygon points="1256.0,779.0 1263.0,779.0 1259.0,791.0 1252.0,791.0"/>
<polygon points="1288.0,745.0 1305.0,745.0 1304.1,752.0 1287.0,752.0"/>
<polygon points="1296.1,752.3 1304.1,752.3 1290.4,788.4 1282.4,788.4"/>
<polygon points="1291.0,785.0 1306.0,785.0 1304.8,791.3 1290.0,791.3"/>
<polygon points="1328.4,752.3 1345.4,752.3 1328.8,771.1 1311.8,771.1"/>
<polygon points="1346.0,741.0 1378.0,741.0 1366.0,755.5 1338.0,755.5"/>
<polygon points="1344.0,759.5 1372.0,759.5 1371.0,766.0 1343.0,766.0"/>
<polygon points="1349.0,766.0 1357.0,766.0 1355.5,784.0 1347.5,784.0"/>
<polygon points="1338.0,770.0 1370.0,770.0 1369.2,775.8 1337.5,775.8"/>
<polygon points="1316.0,785.0 1367.0,785.0 1365.6,791.7 1314.4,791.7"/>
<polygon points="1318.0,772.5 1338.0,772.5 1336.8,779.0 1317.0,779.0"/>
<polygon points="1313.0,742.0 1319.0,742.0 1309.0,790.0 1303.0,790.0"/>
</g>
<g fill="none" stroke="#4d505b" stroke-width="1.7" stroke-linecap="round" stroke-linejoin="round" filter="url(#wsh)" opacity="0.9">
<polyline points="1156.6,740.0 1155.8,753.0"/>
<polyline points="1146.0,754.0 1156.3,754.0"/>
<polyline points="1157.0,748.0 1196.3,748.0"/>
<polyline points="1197.2,741.5 1196.5,748.0"/>
<polyline points="1166.0,758.0 1163.6,766.6"/>
<polyline points="1177.3,760.5 1180.3,766.6"/>
<polyline points="1193.6,751.4 1190.6,766.6 1186.0,787.0"/>
<polyline points="1141.0,771.8 1151.5,771.8"/>
<polyline points="1150.7,757.5 1149.7,771.0"/>
<polyline points="1150.6,772.7 1141.1,790.1"/>
<polyline points="1132.5,792.0 1141.0,792.0"/>
<polyline points="1159.7,774.0 1159.0,783.5 1170.5,783.5"/>
<polyline points="1150.0,791.8 1182.6,791.8 1186.0,787.0"/>
<polyline points="1206.7,746.7 1244.6,746.7"/>
<polyline points="1213.7,749.0 1210.7,760.0"/>
<polyline points="1201.4,768.7 1240.0,768.7"/>
<polyline points="1196.0,783.4 1235.5,783.4 1237.2,776.5"/>
<polyline points="1256.8,740.0 1245.3,789.5 1241.0,792.4"/>
<polyline points="1221.0,792.5 1241.0,792.5"/>
<polyline points="1269.5,748.4 1280.3,748.4"/>
<polyline points="1270.6,741.0 1262.5,778.3"/>
<polyline points="1279.8,748.7 1272.6,778.3"/>
<polyline points="1255.8,778.8 1262.3,778.8"/>
<polyline points="1272.4,778.8 1281.0,778.8"/>
<polyline points="1291.5,740.4 1277.4,791.3"/>
<polyline points="1289.0,752.4 1304.1,752.4"/>
<polyline points="1304.3,752.3 1290.6,788.4"/>
<polyline points="1255.8,791.2 1266.6,791.2"/>
<polyline points="1277.4,791.7 1304.8,791.7 1307.0,786.0"/>
<polyline points="1273.1,780.5 1278.1,789.8"/>
<polyline points="1318.9,741.9 1316.0,751.6 1314.6,753.0 1308.8,790.6"/>
<polyline points="1331.0,754.1 1340.4,745.1"/>
<polyline points="1328.8,771.1 1345.6,752.3"/>
<polyline points="1355.5,746.4 1363.5,746.4"/>
<polyline points="1366.3,755.6 1377.0,742.5 1378.6,740.8"/>
<polyline points="1344.0,766.3 1355.0,766.3 1358.0,763.3 1361.0,766.3 1372.8,766.3"/>
<polyline points="1371.6,759.5 1371.2,766.0"/>
<polyline points="1338.2,776.2 1349.0,776.2"/>
<polyline points="1339.1,772.5 1337.0,779.0"/>
<polyline points="1317.3,779.5 1336.8,779.5"/>
<polyline points="1357.2,776.2 1355.7,784.0"/>
<polyline points="1314.4,792.0 1365.6,792.0"/>
<polyline points="1366.5,785.5 1365.8,792.0"/>
<polyline points="1334.8,785.5 1333.3,792.0"/>
<polyline points="1370.2,766.8 1369.4,775.4"/>
</g>
<g fill="none" stroke="#8a8d96" stroke-width="1.3" stroke-linecap="round" filter="url(#wsh)">
<polyline points="1357.0,776.2 1369.2,776.2"/>
<polyline points="1322.3,763.2 1326.0,763.2"/>
</g>
<rect x="1165" y="756.8" width="17.6" height="2.8" fill="#6a6d78" opacity="0.6" filter="url(#wsh)"/>
</g>
<g font-family="Liberation Sans" font-weight="bold" font-style="italic" font-size="32" fill="#7d7f86" stroke="#7d7f86" stroke-width="0.8" filter="url(#wb)">
<text transform="translate(1147.12,827.2) scale(1.112,1)" x="0" y="0">z</text>
<text transform="translate(1174.15,827.2) scale(1.071,1)" x="0" y="0">z</text>
<text transform="translate(1200.64,827.2) scale(1.121,1)" x="0" y="0">r</text>
<text transform="translate(1225.12,827.2) scale(1.264,1)" x="0" y="0">t</text>
<text transform="translate(1245.18,827.2) scale(1.165,1)" x="0" y="0">0</text>
<text transform="translate(1280.07,827.2) scale(0.835,1)" x="0" y="0">1</text>
<text transform="translate(1303.02,827.2) scale(1.4,1)" x="0" y="0">.</text>
<text transform="translate(1323.71,827.2) scale(0.971,1)" x="0" y="0">c</text>
<text transform="translate(1347.61,827.2) scale(1.178,1)" x="0" y="0">n</text>
</g>
<g font-family="Liberation Sans" font-weight="bold" font-style="italic" font-size="32" fill="#73a3d6" stroke="#73a3d6" stroke-width="0.8">
<text transform="translate(1145.92,825.8) scale(1.112,1)" x="0" y="0">z</text>
<text transform="translate(1172.95,825.8) scale(1.071,1)" x="0" y="0">z</text>
<text transform="translate(1199.44,825.8) scale(1.121,1)" x="0" y="0">r</text>
<text transform="translate(1223.92,825.8) scale(1.264,1)" x="0" y="0">t</text>
<text transform="translate(1243.98,825.8) scale(1.165,1)" x="0" y="0">0</text>
<text transform="translate(1278.87,825.8) scale(0.835,1)" x="0" y="0">1</text>
<text transform="translate(1301.82,825.8) scale(1.4,1)" x="0" y="0">.</text>
<text transform="translate(1322.51,825.8) scale(0.971,1)" x="0" y="0">c</text>
<text transform="translate(1346.41,825.8) scale(1.178,1)" x="0" y="0">n</text>
</g>
</svg></body></html>
